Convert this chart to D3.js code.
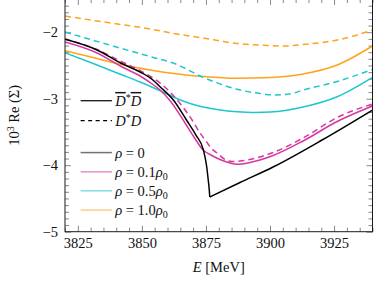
<!DOCTYPE html>
<html>
<head>
<meta charset="utf-8">
<script src="https://cdn.jsdelivr.net/npm/d3@7"></script>
<style>
  body { margin: 0; background: #fff; }
  text { font-family: "Liberation Serif", "DejaVu Serif", serif; }
</style>
</head>
<body>
<div id="chart"></div>
<script>
// values: E in MeV, 10^3 Re(Sigma)
// rho = 0 (D*D and D*bar Dbar coincide)
const eRho0 = [3820.0, 3832.5, 3841.9, 3849.3, 3854.3, 3857.1, 3862.3, 3867.4, 3871.1, 3874.0, 3875.2, 3875.9, 3876.3, 3876.5, 3888.3, 3901.2, 3920.3, 3940.0];
const reRho0 = [-2.106, -2.267, -2.467, -2.598, -2.718, -2.819, -3.019, -3.320, -3.546, -3.771, -3.997, -4.222, -4.373, -4.478, -4.260, -4.027, -3.621, -3.170];

// rho = 0.1 rho0
const eRho01Bar = [3820.0, 3832.5, 3841.9, 3849.3, 3854.3, 3857.1, 3861.4, 3866.6, 3870.3, 3873.9, 3876.6, 3880.5, 3884.4, 3887.1, 3892.2, 3901.2, 3912.9, 3926.2, 3940.0];
const reRho01Bar = [-2.147, -2.312, -2.515, -2.658, -2.786, -2.869, -3.049, -3.350, -3.576, -3.771, -3.839, -3.914, -3.967, -3.986, -3.959, -3.854, -3.636, -3.343, -3.110];
const eRho01 = [3820.0, 3832.5, 3841.9, 3849.3, 3854.3, 3857.1, 3862.1, 3866.0, 3869.6, 3872.7, 3875.0, 3877.0, 3879.3, 3882.8, 3885.2, 3888.3, 3892.2, 3901.2, 3912.9, 3926.2, 3940.0];
const reRho01 = [-2.102, -2.260, -2.440, -2.576, -2.688, -2.764, -2.944, -3.125, -3.320, -3.516, -3.636, -3.741, -3.816, -3.922, -3.944, -3.937, -3.914, -3.809, -3.591, -3.282, -3.079];

// rho = 0.5 rho0
const eRho05Bar = [3820.0, 3832.5, 3841.9, 3849.3, 3854.3, 3859.0, 3864.1, 3868.8, 3873.9, 3880.5, 3887.1, 3894.1, 3900.0, 3905.9, 3912.9, 3926.2, 3940.0];
const reRho05Bar = [-2.308, -2.493, -2.636, -2.749, -2.831, -2.914, -3.004, -3.072, -3.125, -3.170, -3.195, -3.207, -3.200, -3.177, -3.125, -2.970, -2.678];
const eRho05 = [3820.0, 3833.7, 3841.9, 3853.2, 3862.5, 3873.9, 3887.1, 3896.1, 3902.0, 3907.8, 3912.9, 3926.2, 3940.0];
const reRho05 = [-1.997, -2.151, -2.242, -2.365, -2.467, -2.678, -2.858, -2.922, -2.944, -2.929, -2.869, -2.741, -2.558];

// rho = 1.0 rho0
const eRho10Bar = [3820.0, 3832.5, 3841.9, 3853.2, 3862.5, 3873.9, 3887.1, 3900.0, 3912.9, 3926.2, 3940.0];
const reRho10Bar = [-2.278, -2.395, -2.485, -2.568, -2.621, -2.666, -2.693, -2.681, -2.628, -2.493, -2.207];
const eRho10 = [3820.0, 3832.5, 3841.9, 3853.2, 3862.5, 3873.9, 3887.1, 3900.0, 3905.9, 3912.9, 3926.2, 3940.0];
const reRho10 = [-1.756, -1.831, -1.884, -1.951, -2.019, -2.087, -2.169, -2.200, -2.207, -2.185, -2.117, -1.966];

const xTicks = [3825, 3850, 3875, 3900, 3925];
const yTicks = [-5, -4, -3, -2];
const densityLabels = ["0", "0.1", "0.5", "1.0"];
const densityColors = ["#000000", "#d6389f", "#1ec6cf", "#ffa31a"];

const W = 374, H = 281;
const margin = {top: -1, right: 1.5, bottom: 49.3, left: 65},
    width = W - margin.left - margin.right,
    height = H - margin.top - margin.bottom;

const svg = d3.select("#chart")
  .append("svg")
    .attr("width", W)
    .attr("height", H)
  .append("g")
    .attr("transform", `translate(${margin.left},${margin.top})`);

const x = d3.scaleLinear().domain([3820, 3940]).range([0, width]);
const y = d3.scaleLinear().domain([-5, -1.5]).range([height, 0]);

// minor / major ticks on all four sides, pointing inward
const xMinor = d3.range(3820, 3941, 5).filter(d => !xTicks.includes(d));
const yMinor = d3.range(-50, -14).map(d => d / 10).filter(d => !yTicks.includes(d));

function tickAxis(axis, vals, size) {
  return axis.tickValues(vals).tickSize(size).tickFormat("");
}
const axes = svg.append("g").attr("class", "axes");
axes.append("g").attr("transform", `translate(0,${height})`).call(tickAxis(d3.axisBottom(x), xMinor, -4));
axes.append("g").call(tickAxis(d3.axisTop(x), xMinor, -4));
axes.append("g").call(tickAxis(d3.axisTop(x), xTicks, -6));
axes.append("g").call(tickAxis(d3.axisLeft(y), yMinor, -4));
axes.append("g").attr("transform", `translate(${width},0)`).call(tickAxis(d3.axisRight(y), yMinor, -4));
axes.append("g").attr("transform", `translate(${width},0)`).call(tickAxis(d3.axisRight(y), yTicks, -6));

// labelled axes
axes.append("g")
    .attr("class", "xaxis")
    .attr("transform", `translate(0,${height})`)
    .call(d3.axisBottom(x).tickValues(xTicks).tickSize(-6).tickPadding(6).tickFormat(d3.format("d")));
axes.append("g")
    .attr("class", "yaxis")
    .call(d3.axisLeft(y).tickValues(yTicks).tickSize(-6).tickPadding(7).tickFormat(d3.format("d")));

axes.selectAll(".domain").remove();
axes.selectAll(".tick line").attr("stroke", "#6a6a6a").attr("stroke-width", 0.8);
axes.selectAll(".tick text").attr("fill", "#111").style("font-size", "14.5px").attr("font-family", null);

// curves
svg.append("clipPath").attr("id", "clip")
  .append("rect").attr("width", width).attr("height", height);

const series = [
  {e: eRho10Bar, v: reRho10Bar, color: densityColors[3], dash: null},
  {e: eRho10, v: reRho10, color: densityColors[3], dash: "6,4"},
  {e: eRho05Bar, v: reRho05Bar, color: densityColors[2], dash: null},
  {e: eRho05, v: reRho05, color: densityColors[2], dash: "6,4"},
  {e: eRho01Bar, v: reRho01Bar, color: densityColors[1], dash: null},
  {e: eRho01, v: reRho01, color: densityColors[1], dash: "6,4"},
  {e: eRho0, v: reRho0, color: densityColors[0], dash: null, cusp: true}
];

const line = d3.line()
  .x(d => x(d[0]))
  .y(d => y(d[1]))
  .curve(d3.curveMonotoneX);

const curves = svg.append("g").attr("clip-path", "url(#clip)");
series.forEach(s => {
  const pts = s.e.map((e, i) => [e, s.v[i]]);
  let pieces = [pts];
  if (s.cusp) {
    // threshold cusp: draw both branches separately so it stays sharp
    const k = d3.minIndex(s.v);
    pieces = [pts.slice(0, k + 1), pts.slice(k)];
  }
  pieces.forEach(p => {
    curves.append("path")
      .datum(p)
      .attr("d", line)
      .attr("fill", "none")
      .attr("stroke", s.color)
      .attr("stroke-width", 1.5)
      .attr("stroke-dasharray", s.dash);
  });
});

// frame
svg.append("rect")
  .attr("width", width)
  .attr("height", height)
  .attr("fill", "none")
  .attr("stroke", "#1a1a1a")
  .attr("stroke-width", 1);

// legend
const lx0 = x(3826.1), lx1 = x(3838.3), tx = x(3839.6);
const legend = svg.append("g").attr("font-size", "14.5px").attr("fill", "#111");

const channelRows = [{dash: null, yv: -3.03}, {dash: "4,3.5", yv: -3.33}];
channelRows.forEach((r, i) => {
  legend.append("line")
    .attr("x1", lx0).attr("x2", lx1)
    .attr("y1", y(r.yv)).attr("y2", y(r.yv))
    .attr("stroke", "#000").attr("stroke-width", 1.2)
    .attr("stroke-dasharray", r.dash);
  const t = legend.append("text").attr("x", tx).attr("y", y(r.yv)).attr("dy", "0.36em");
  if (i === 0) {
    t.append("tspan").attr("font-style", "italic").style("text-decoration", "overline").text("D");
    t.append("tspan").attr("dy", -5).attr("font-size", "10px").text("*");
    t.append("tspan").attr("dy", 5).attr("font-style", "italic").style("text-decoration", "overline").text("D");
  } else {
    t.append("tspan").attr("font-style", "italic").text("D");
    t.append("tspan").attr("dy", -5).attr("font-size", "10px").text("*");
    t.append("tspan").attr("dy", 5).attr("font-style", "italic").text("D");
  }
});

const densityRowY = [-3.81, -4.10, -4.385, -4.675];
densityLabels.forEach((lab, i) => {
  legend.append("line")
    .attr("x1", lx0).attr("x2", lx1)
    .attr("y1", y(densityRowY[i])).attr("y2", y(densityRowY[i]))
    .attr("stroke", densityColors[i]).attr("stroke-width", 1.5)
    .attr("opacity", 0.55);
  const t = legend.append("text").attr("x", tx).attr("y", y(densityRowY[i])).attr("dy", "0.36em");
  t.append("tspan").attr("font-style", "italic").text("ρ");
  t.append("tspan").text(" = " + lab);
  if (lab !== "0") {
    t.append("tspan").attr("font-style", "italic").text("ρ");
    t.append("tspan").attr("dy", 3).attr("font-size", "10px").text("0");
  }
});

// axis titles
const xt = svg.append("text")
  .attr("x", width / 2)
  .attr("y", height + 40)
  .attr("text-anchor", "middle")
  .attr("font-size", "14.5px")
  .attr("fill", "#111");
xt.append("tspan").attr("font-style", "italic").text("E");
xt.append("tspan").text(" [MeV]");

const yt = svg.append("text")
  .attr("transform", `translate(${19 - margin.left},${height / 2}) rotate(-90)`)
  .attr("text-anchor", "middle")
  .attr("font-size", "14.5px")
  .attr("fill", "#111");
yt.append("tspan").text("10");
yt.append("tspan").attr("dy", -5).attr("font-size", "10px").text("3");
yt.append("tspan").attr("dy", 5).text(" Re (Σ)");
</script>
</body>
</html>
